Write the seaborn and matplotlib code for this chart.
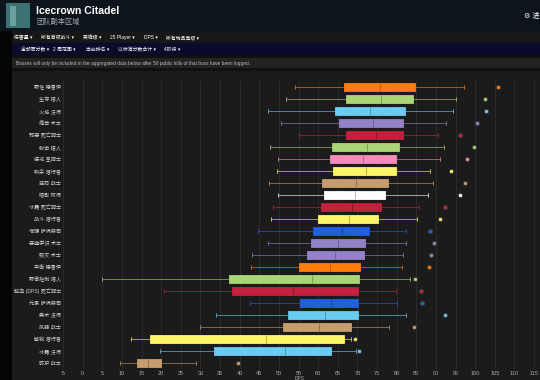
import numpy as np
import pandas as pd
import matplotlib
matplotlib.use("Agg")
import matplotlib.pyplot as plt
from matplotlib.patches import Rectangle
import seaborn as sns

sns.set_theme(style="dark")
plt.rcParams['font.family'] = ['Liberation Sans', 'Noto Sans CJK SC', 'DejaVu Sans']

specs = ["野性 德鲁伊", "生存 猎人", "火焰 法师", "痛苦 术士", "邪恶 死亡骑士", "射击 猎人",
         "惩戒 圣骑士", "刺杀 潜行者", "狂怒 战士", "暗影 牧师", "冰霜 死亡骑士", "战斗 潜行者",
         "增强 萨满祭司", "恶魔学识 术士", "毁灭 术士", "平衡 德鲁伊", "野兽控制 猎人",
         "鲜血 (DPS) 死亡骑士", "元素 萨满祭司", "奥术 法师", "武器 战士", "敏锐 潜行者",
         "冰霜 法师", "防护 战士"]
classes = ["druid", "hunter", "mage", "warlock", "dk", "hunter", "paladin", "rogue", "warrior",
           "priest", "dk", "rogue", "shaman", "warlock", "warlock", "druid", "hunter", "dk",
           "shaman", "mage", "warrior", "rogue", "mage", "warrior"]
class_colors = {"druid": "#FF7D0A", "hunter": "#ABD473", "mage": "#69CCF0", "warlock": "#9482C9",
                "dk": "#C41F3B", "paladin": "#F58CBA", "rogue": "#FFF569", "warrior": "#C79C6E",
                "priest": "#FFFFFF", "shaman": "#1F5FE0"}

lows = [54.0, 51.7, 47.2, 50.6, 55.1, 47.8, 49.9, 49.5, 47.5, 49.8, 48.5, 48.0,
        44.7, 47.2, 43.1, 43.0, 5.0, 20.7, 42.7, 33.9, 30.0, 12.2, 19.6, 9.5]
q1s = [66.5, 67.2, 64.2, 65.4, 67.0, 63.6, 63.0, 63.7, 60.9, 61.6, 60.8, 59.9,
       58.8, 58.2, 57.1, 55.0, 37.2, 38.0, 55.5, 52.2, 51.0, 17.1, 33.5, 13.9]
medians = [75.7, 76.0, 73.3, 73.9, 74.8, 72.5, 71.5, 72.1, 69.7, 69.4, 68.7, 67.9,
           66.0, 65.1, 64.2, 63.0, 58.5, 53.6, 63.3, 61.8, 60.2, 46.8, 51.5, 16.7]
q3s = [84.6, 84.1, 82.1, 81.7, 81.7, 80.5, 79.9, 79.9, 77.8, 77.1, 76.1, 75.3,
       73.0, 72.0, 71.7, 70.6, 70.4, 70.2, 70.2, 70.2, 68.3, 66.5, 63.2, 19.9]
highs = [97.1, 95.1, 94.3, 92.5, 90.6, 92.0, 91.1, 88.6, 89.3, 88.1, 85.8, 85.1,
         82.4, 82.4, 81.7, 81.3, 83.4, 79.9, 80.1, 82.3, 78.0, 68.4, 69.7, 28.8]
tops = [105.7, 102.5, 102.8, 100.4, 96.2, 99.6, 97.8, 93.9, 97.3, 96.1, 92.3, 91.1,
        88.5, 89.6, 88.8, 88.3, 84.8, 86.2, 86.5, 92.2, 84.5, 69.4, 70.5, 39.5]
xticks = list(range(-5, 116, 5))

rows = []
for i, s in enumerate(specs):
    for v in (lows[i], q1s[i], medians[i], q3s[i], highs[i]):
        rows.append({"spec": s, "value": v})
df = pd.DataFrame(rows)
top_df = pd.DataFrame({"spec": specs, "value": tops})
colors = [class_colors[c] for c in classes]

W, H = 540, 380
fig = plt.figure(figsize=(5.4, 3.8), dpi=100, facecolor="#1b1b1b")

def rect(x0, y0, x1, y1, color):
    fig.add_artist(Rectangle((x0 / W, 1 - y1 / H), (x1 - x0) / W, (y1 - y0) / H,
                             transform=fig.transFigure, color=color, lw=0, zorder=0))

def ftext(x, y, s, **kw):
    fig.text(x / W, 1 - y / H, s, va="center", **kw)

# page chrome
rect(0, 0, 540, 31, "#0b151b")
rect(0, 31, 540, 380, "#050505")
rect(12, 31, 540, 43, "#171717")
rect(12, 43, 540, 55, "#0a0a2c")
rect(12, 55, 540, 58, "#101010")
rect(12, 58, 540, 68, "#222222")
rect(12, 68, 540, 71, "#101010")
rect(12, 71, 540, 380, "#1b1b1b")
rect(6, 3, 30, 28, "#3d7272")
rect(10, 6, 16, 26, "#6aa0a0")

ftext(36, 11, "Icecrown Citadel", color="white", fontsize=7.6, fontweight="bold")
ftext(36, 22, "团队副本区域", color="#a0aab0", fontsize=5.2)
ftext(524, 15, "\u2699 进", color="white", fontsize=5, family=["DejaVu Sans", "Noto Sans CJK SC"])

menu1 = [(14, "伤害量 ▾"), (41, "所有首领战斗 ▾"), (83, "英雄级 ▾"), (110, "25 Player ▾"),
         (144, "DPS ▾"), (166, "所有物品等级 ▾")]
menu2 = [(21, "全部百分数 ▾"), (53, "2 周范围 ▾"), (86, "当前排名 ▾"),
         (118, "以标准分数合计 ▾"), (164, "4阶段 ▾")]
for x, t in menu1:
    ftext(x, 37.5, t, color="white", fontsize=3.5)
for x, t in menu2:
    ftext(x, 49.5, t, color="white", fontsize=3.5)
ftext(16, 63, "Bosses will only be included in the aggregated data below after 50 public kills "
      "of that boss have been logged.", color="#bbbbbb", fontsize=3.4)

# chart axes
ax = fig.add_axes([63 / W, 1 - 369 / H, 473 / W, 288 / H])
ax.set_facecolor("#1b1b1b")

for i, s in enumerate(specs):
    c = colors[i]
    mc = tuple(np.array(matplotlib.colors.to_rgb(c)) * 0.75)
    sns.boxplot(data=df[df["spec"] == s], x="value", y="spec", order=specs, ax=ax,
                color=c, linecolor=c, saturation=1, width=0.68, whis=(0, 100),
                showfliers=False, linewidth=0.6,
                medianprops={"color": mc, "linewidth": 0.8},
                whiskerprops={"color": c, "alpha": 0.7, "linewidth": 0.6},
                capprops={"color": c, "alpha": 0.8, "linewidth": 0.6},
                boxprops={"edgecolor": c})

sns.stripplot(data=top_df, x="value", y="spec", order=specs, hue="spec", hue_order=specs,
              palette=colors, jitter=False, size=3.0, linewidth=0.7, edgecolor="#3a3a3a",
              legend=False, ax=ax, zorder=5)

ax.set_xlim(-5, 115.5)
ax.set_ylim(23.5, -0.5)
ax.set_xticks(xticks)
ax.set_xticklabels([str(t) for t in xticks])
ax.grid(axis="x", color="#2e2e2e", linewidth=0.6)
ax.grid(axis="y", visible=False)
ax.set_axisbelow(True)
for sp in ax.spines.values():
    sp.set_visible(False)
ax.tick_params(axis="y", length=0, pad=1.5, labelsize=3.7, labelcolor="#cfcfcf")
ax.tick_params(axis="x", length=0, pad=1.5, labelsize=4, labelcolor="#aaaaaa")
ax.set_ylabel("")
ax.set_xlabel("DPS", fontsize=3.5, color="#aaaaaa", labelpad=0)

fig.savefig("out.png", dpi=100, facecolor=fig.get_facecolor())
